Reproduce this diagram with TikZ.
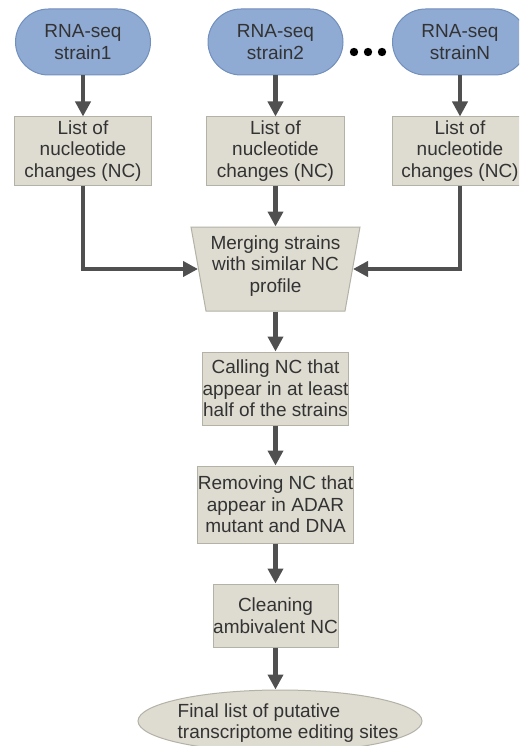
\documentclass[tikz,border=0pt]{standalone}
\usepackage{fontspec}
\setmainfont{Liberation Sans}
\usetikzlibrary{arrows.meta,shapes.misc,shapes.geometric}
\definecolor{ovalfill}{HTML}{8FAAD3}
\definecolor{ovaldraw}{HTML}{7290BC}
\definecolor{boxfill}{HTML}{DEDBD0}
\definecolor{boxdraw}{HTML}{B4B1A7}
\definecolor{txt}{HTML}{333333}
\definecolor{arr}{HTML}{505050}
\tikzset{
  base/.style={font=\fontsize{19}{21.7}\selectfont, text=txt, align=center, inner sep=0pt, line width=1pt},
  strainbox/.style={base, rounded rectangle, fill=ovalfill, draw=ovaldraw, minimum width=135pt, minimum height=66pt},
  stepbox/.style={base, rectangle, fill=boxfill, draw=boxdraw},
  flow/.style={draw=arr, line width=4.5pt, -{Triangle[width=15pt,length=15pt]}}
}
\begin{document}
\begin{tikzpicture}[x=1pt,y=-1pt]
\useasboundingbox (0,0) rectangle (519,746);
\clip (0,0) rectangle (519,746);
\fill[white] (0,0) rectangle (519,746);

\node[strainbox] (s1) at (83,42) {RNA-seq\\strain1};
\node[strainbox] (s2) at (275.5,42) {RNA-seq\\strain2};
\node[strainbox] (sN) at (460,42) {RNA-seq\\strainN};

\foreach \xx in {354,368,382} \fill[black] (\xx,52) circle (4.2pt);

\node[stepbox, minimum width=137pt, minimum height=68pt] (b1) at (83,151) {List of\\nucleotide\\changes (NC)};
\node[stepbox, minimum width=138pt, minimum height=68pt] (b2) at (275.5,151) {List of\\nucleotide\\changes (NC)};
\node[stepbox, minimum width=136pt, minimum height=68pt] (b3) at (460,151) {List of\\nucleotide\\changes (NC)};

\fill[boxfill, draw=boxdraw, line width=1pt] (191,227) -- (360,227) -- (345,311) -- (206,311) -- cycle;
\node[base, minimum width=154pt, minimum height=84pt] (merge) at (275.5,269) {};
\node[base] (mergetxt) at (275.5,266) {Merging strains\\with similar NC\\profile};

\node[stepbox, minimum width=145pt, minimum height=73pt] (call) at (275.5,388.5) {Calling NC that\\appear in at least\\half of the strains};
\node[stepbox, minimum width=155pt, minimum height=77pt] (rem) at (275.5,504.5) {Removing NC that\\appear in ADAR\\mutant and DNA};
\node[stepbox, minimum width=125pt, minimum height=63pt] (clean) at (275.5,615.5) {Cleaning\\ambivalent NC};
\node[base, ellipse, fill=boxfill, draw=boxdraw, minimum width=284pt, minimum height=62pt] (final) at (280,721) {};
\node[base, align=left] (finaltxt) at (288,723) {Final list of putative\\transcriptome editing sites};

\draw[flow] (s1.south) -- (b1.north);
\draw[flow] (s2.south) -- (b2.north);
\draw[flow] (sN.south) -- (b3.north);
\draw[flow] (b1.south) |- (merge.west);
\draw[flow] (b2.south) -- (merge.north);
\draw[flow] (b3.south) |- (merge.east);
\draw[flow] (merge.south) -- (call.north);
\draw[flow] (call.south) -- (rem.north);
\draw[flow] (rem.south) -- (clean.north);
\draw[flow] (clean.south) -- (final.north -| clean.south);
\end{tikzpicture}
\end{document}
